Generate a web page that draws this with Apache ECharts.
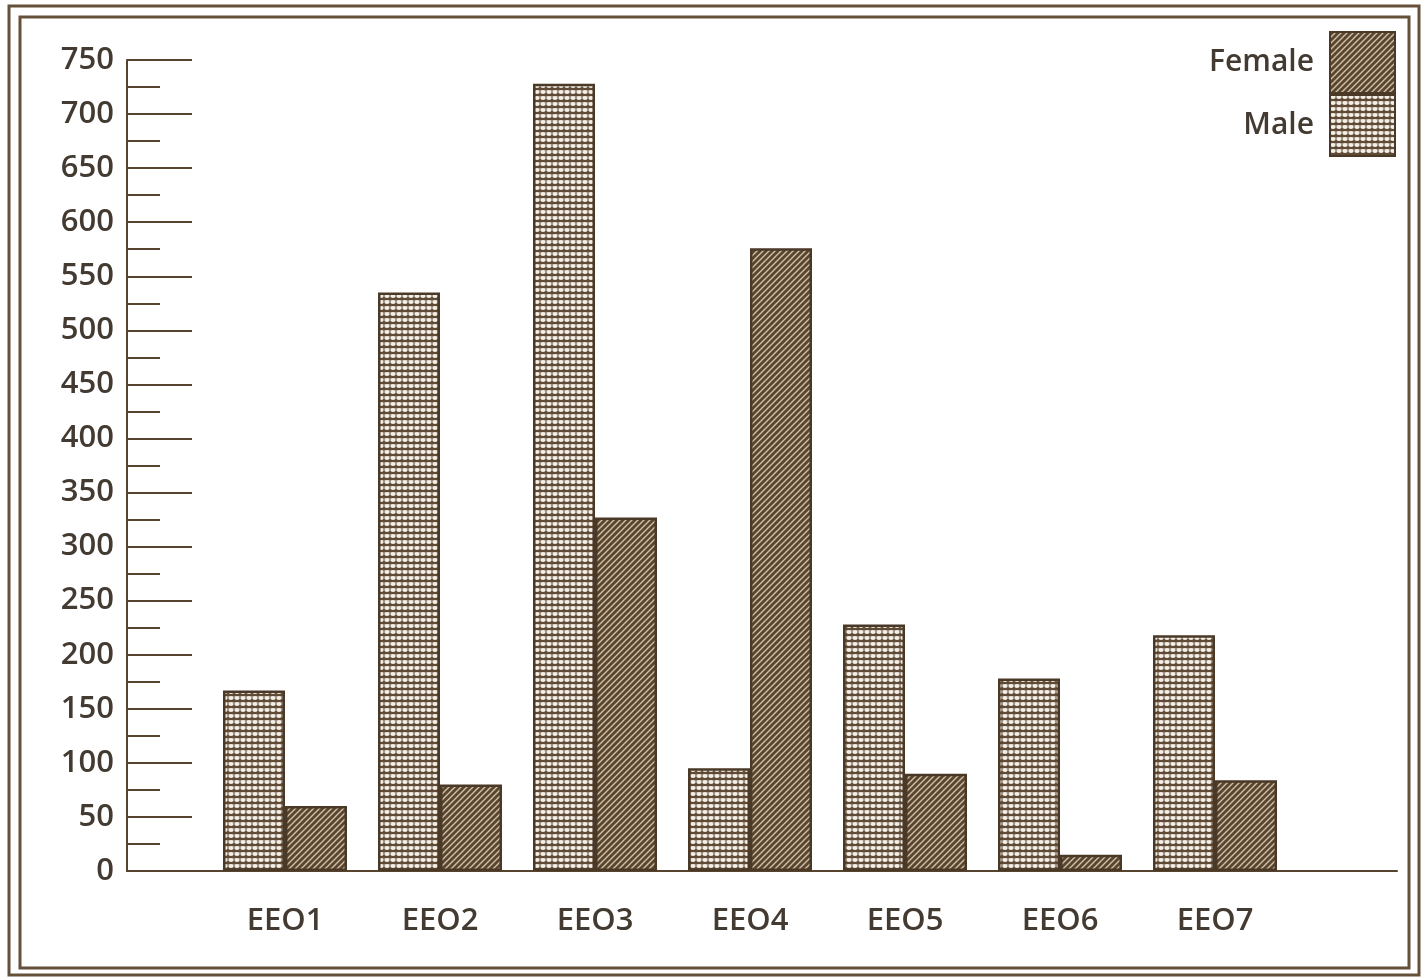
<!DOCTYPE html>
<html>
<head>
<meta charset="utf-8">
<title>EEO by gender</title>
<script src="https://cdn.jsdelivr.net/npm/echarts@6/dist/echarts.min.js"></script>
<style>
  html, body { margin: 0; padding: 0; background: #ffffff; }
  #chart { width: 1425px; height: 978px; }
</style>
</head>
<body>
<div id="chart"></div>
<script>
// Categories and headcounts
const categories = ['EEO1', 'EEO2', 'EEO3', 'EEO4', 'EEO5', 'EEO6', 'EEO7'];
const maleValues = [167, 535, 728, 95, 228, 178, 218];
const femaleValues = [60, 80, 327, 576, 90, 15, 84];
const yTicks = { min: 0, max: 750, step: 50 };

const INK = '#56442f';
const TEXT = '#433a32';
const FONT = '"Open Sans", "Noto Sans", sans-serif';

// Diagonal light hatching on dark brown
function hatchPattern() {
  const s = 6;
  const c = document.createElement('canvas');
  c.width = s; c.height = s;
  const g = c.getContext('2d');
  g.fillStyle = '#5a452f';
  g.fillRect(0, 0, s, s);
  g.strokeStyle = 'rgba(214,200,176,0.95)';
  g.lineWidth = 1.4;
  g.beginPath();
  g.moveTo(-1, s + 1); g.lineTo(s + 1, -1);
  g.moveTo(-1, 1); g.lineTo(1, -1);
  g.moveTo(s - 1, s + 1); g.lineTo(s + 1, s - 1);
  g.stroke();
  return c;
}

// Rows of small light ovals separated by dark rules
function dotPattern() {
  const w = 6, h = 6;
  const c = document.createElement('canvas');
  c.width = w; c.height = h;
  const g = c.getContext('2d');
  g.fillStyle = '#5e4a35';
  g.fillRect(0, 0, w, h);
  g.fillStyle = '#f3eee6';
  g.beginPath();
  g.ellipse(3, 2, 2.7, 1.9, 0, 0, Math.PI * 2);
  g.fill();
  g.fillStyle = 'rgba(243,238,230,0.45)';
  g.fillRect(0, 0, w, 0.8);
  return c;
}

const chart = echarts.init(document.getElementById('chart'), null, { renderer: 'canvas' });

const option = {
  backgroundColor: '#ffffff',
  animation: false,
  graphic: [
    { type: 'rect', shape: { x: 9, y: 6, width: 1410, height: 969 },
      style: { fill: 'none', stroke: '#65503a', lineWidth: 3 } },
    { type: 'rect', shape: { x: 20, y: 17, width: 1389, height: 951 },
      style: { fill: 'none', stroke: '#65503a', lineWidth: 3 } }
  ],
  legend: {
    data: ['Female', 'Male'],
    orient: 'vertical',
    right: 29,
    top: 31,
    padding: 0,
    align: 'right',
    icon: 'rect',
    itemWidth: 65,
    itemHeight: 61,
    itemGap: 0,
    textStyle: { color: TEXT, fontFamily: FONT, fontSize: 30, fontWeight: 600, padding: [0, 11, 16, 0] }
  },
  grid: [
    { left: 127, top: 60, width: 1270, height: 811 },
    { left: 207.5, top: 60, width: 1085, height: 811 }
  ],
  xAxis: [
    {
      type: 'value', gridIndex: 0, min: 0, max: 1,
      axisLine: { show: true, lineStyle: { color: INK, width: 2 } },
      axisTick: { show: false }, axisLabel: { show: false }, splitLine: { show: false }
    },
    {
      type: 'category', gridIndex: 1, data: categories,
      axisLine: { show: false }, axisTick: { show: false },
      axisLabel: { color: TEXT, fontFamily: FONT, fontSize: 31, fontWeight: 600, margin: 35 }
    }
  ],
  yAxis: [
    {
      type: 'value', gridIndex: 0,
      min: yTicks.min, max: yTicks.max, interval: yTicks.step,
      axisLine: { show: true, lineStyle: { color: INK, width: 2 } },
      axisTick: { show: true, inside: true, length: 65, lineStyle: { color: INK, width: 2 } },
      minorTick: { show: true, splitNumber: 2, length: 33, lineStyle: { color: INK, width: 2 } },
      axisLabel: { color: TEXT, fontFamily: FONT, fontSize: 31, fontWeight: 600, margin: 13, padding: [0, 0, 8, 0] },
      splitLine: { show: false }
    },
    {
      type: 'value', gridIndex: 1,
      min: yTicks.min, max: yTicks.max, interval: yTicks.step, show: false
    }
  ],
  series: [
    {
      name: 'Male', type: 'bar', xAxisIndex: 1, yAxisIndex: 1,
      data: maleValues, barWidth: 62, barGap: '0%',
      itemStyle: { color: { image: dotPattern(), repeat: 'repeat' }, borderColor: '#4a3927', borderWidth: 2.5 }
    },
    {
      name: 'Female', type: 'bar', xAxisIndex: 1, yAxisIndex: 1,
      data: femaleValues, barWidth: 62, barGap: '0%',
      itemStyle: { color: { image: hatchPattern(), repeat: 'repeat' }, borderColor: '#4a3927', borderWidth: 2.5 }
    }
  ]
};

chart.setOption(option);
</script>
</body>
</html>
